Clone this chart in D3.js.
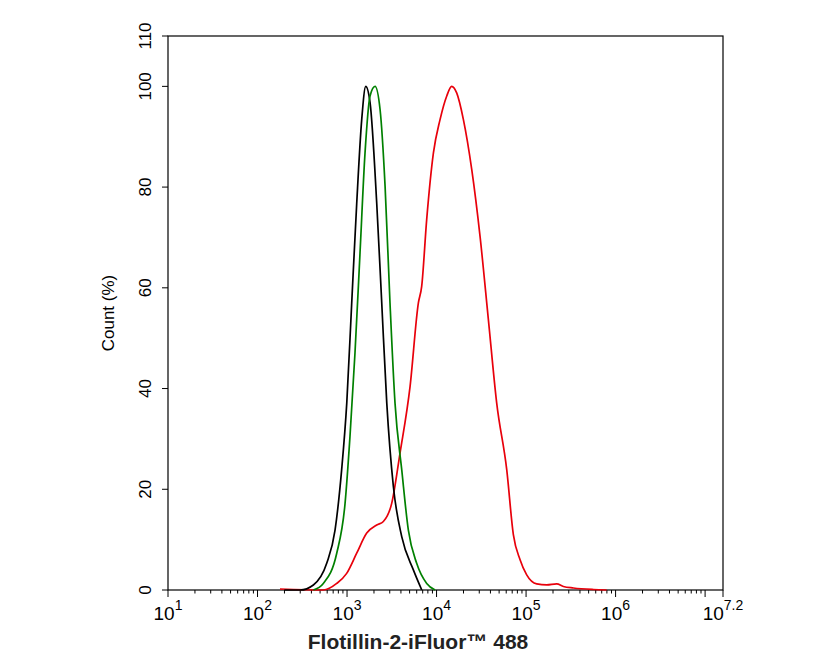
<!DOCTYPE html><html><head><meta charset="utf-8">
<script src="https://cdn.jsdelivr.net/npm/d3@7"></script>
<style>body{margin:0;background:#fff}text{font-family:"Liberation Sans",Arial,sans-serif}</style></head><body>
<svg id="c" width="835" height="668"></svg>
<script>
// x values are log10 exponents of intensity, y values are % count
const blackX=[2.3,2.475,2.624,2.773,2.866,2.940,2.997,3.052,3.108,3.164,3.209,3.257,3.332,3.388,3.444,3.518,3.611,3.741,3.835];
const blackY=[0,0,1.0,5.3,11.9,23.9,37.1,56.9,76.7,93.4,100,96.8,76.7,56.9,37.1,20.5,10.6,4.0,0];
const greenX=[2.624,2.735,2.885,2.978,3.033,3.089,3.145,3.201,3.257,3.313,3.369,3.425,3.480,3.536,3.611,3.685,3.778,3.890,3.983];
const greenY=[0,1.3,7.3,17.2,30.5,47.1,66.9,86.8,98.1,100,95.4,80.2,57.0,37.1,23.9,11.9,5.3,1.3,0];
const redX=[2.251,2.735,2.885,2.996,3.108,3.220,3.332,3.406,3.499,3.592,3.704,3.797,3.834,3.890,3.965,4.039,4.114,4.169,4.225,4.300,4.393,4.486,4.579,4.672,4.784,4.858,4.933,5.007,5.119,5.231,5.342,5.417,5.529,5.752,5.9];
const redY=[0.2,0,1.3,3.3,7.3,11.3,12.9,13.6,17.2,27.2,40.4,57.0,60.3,73.6,86.8,93.4,98.1,100,98.7,93.4,83.5,70.2,53.7,37.1,23.9,11.0,6.0,3.0,1.2,1.0,1.2,0.7,0.4,0.1,0];
const xTickExp=[1,2,3,4,5,6,7.2];
const xTickLabels=["1","2","3","4","5","6","7.2"];
const yTicks=[0,20,40,60,80,100,110];

const svg=d3.select("#c");
const L=168,R=723,T=36,B=590;
const x=d3.scaleLinear().domain([1,7.2]).range([L,R]);
const y=d3.scaleLinear().domain([0,110]).range([B,T]);
svg.append("rect").attr("x",L).attr("y",T).attr("width",R-L).attr("height",B-T).attr("fill","none").attr("stroke","#000").attr("stroke-width",1.2);
const g=svg.append("g");
for(let d=1;d<=7;d++){for(let m=1;m<=9;m++){const e=d+Math.log10(m);if(e>7.2)break;
 g.append("line").attr("x1",x(e)).attr("x2",x(e)).attr("y1",B).attr("y2",B+(m==1?7:3.5)).attr("stroke","#000").attr("stroke-width",1);}}
g.append("line").attr("x1",x(7.2)).attr("x2",x(7.2)).attr("y1",B).attr("y2",B+7).attr("stroke","#000");
xTickExp.forEach((e,i)=>{const t=svg.append("text").attr("x",x(e)).attr("y",B+30).attr("text-anchor","middle").attr("font-size",19);
 t.append("tspan").text("10");t.append("tspan").attr("dy",-10).attr("font-size",14).text(xTickLabels[i]);});
yTicks.forEach(v=>{svg.append("line").attr("x1",L-6).attr("x2",L).attr("y1",y(v)).attr("y2",y(v)).attr("stroke","#000");
 svg.append("text").attr("transform",`translate(${L-17},${y(v)}) rotate(-90)`).attr("text-anchor","middle").attr("font-size",17).text(v);});
svg.append("text").attr("transform",`translate(114,${(T+B)/2}) rotate(-90)`).attr("text-anchor","middle").attr("font-size",17).text("Count  (%)");
svg.append("text").attr("x",418).attr("y",649).attr("text-anchor","middle").attr("font-size",21).attr("font-weight","bold").attr("fill","#222").text("Flotillin-2-iFluor™ 488");
const line=d3.line().x(d=>x(d[0])).y(d=>y(d[1])).curve(d3.curveMonotoneX);
const draw=(xs,ys,c)=>svg.append("path").datum(xs.map((v,i)=>[v,ys[i]])).attr("d",line).attr("fill","none").attr("stroke",c).attr("stroke-width",1.7);
draw(redX,redY,"#e8000b");draw(blackX,blackY,"#000");draw(greenX,greenY,"#008000");
</script></body></html>
